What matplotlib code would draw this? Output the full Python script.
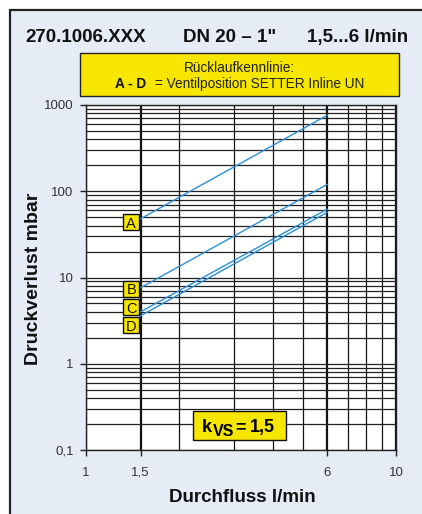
import numpy as np
import matplotlib.pyplot as plt
from matplotlib.patches import Rectangle
from matplotlib.ticker import FixedLocator, NullFormatter

plt.rcParams['font.family'] = ['Liberation Sans', 'DejaVu Sans']

# Durchfluss l/min (line end points) and pressure drop in mbar
flow = [1.5, 6.0]
curve_names = ['A', 'B', 'C', 'D']
dp_A = [48.0, 760.0]
dp_B = [7.6, 120.0]
dp_C = [4.0, 62.0]
dp_D = [3.6, 57.0]

x_ticks = [1, 1.5, 6, 10]
x_ticklabels = ['1', '1,5', '6', '10']
x_minor = [2, 3, 4, 5, 7, 8, 9]
y_ticks = [0.1, 1, 10, 100, 1000]
y_ticklabels = ['0,1', '1', '10', '100', '1000']

W, H = 422, 514
fig = plt.figure(figsize=(W / 100, H / 100), dpi=100)
fig.patch.set_facecolor('white')


def fx(px):
    return px / W


def fy(py):
    return 1 - py / H


# outer light-blue frame (runs past the right and bottom edges)
fig.patches.append(Rectangle((fx(10), fy(1500)), fx(1500), 1490 / H, transform=fig.transFigure,
                             facecolor='#e5ecf5', edgecolor='#222222', lw=1.6, zorder=-5))

ax = fig.add_axes([fx(86), fy(450), fx(396) - fx(86), fy(105) - fy(450)])
ax.set_facecolor('white')
ax.set_xscale('log')
ax.set_yscale('log')
ax.set_xlim(1, 10)
ax.set_ylim(0.1, 1000)

ax.xaxis.set_major_locator(FixedLocator(x_ticks))
ax.set_xticklabels(x_ticklabels)
ax.xaxis.set_minor_locator(FixedLocator(x_minor))
ax.xaxis.set_minor_formatter(NullFormatter())
ax.yaxis.set_major_locator(FixedLocator(y_ticks))
ax.set_yticklabels(y_ticklabels)
ax.yaxis.set_minor_locator(FixedLocator([m * 10.0 ** e for e in range(-1, 3) for m in range(2, 10)]))
ax.yaxis.set_minor_formatter(NullFormatter())

ax.grid(True, axis='x', which='major', color='#111111', lw=1.6)
ax.grid(True, axis='x', which='minor', color='#111111', lw=0.9)
ax.grid(True, axis='y', which='both', color='#222222', lw=0.9)
ax.set_axisbelow(True)

ax.tick_params(which='major', length=4, width=1, color='#222222', labelsize=9.5, labelcolor='#333333')
ax.tick_params(axis='x', which='major', pad=8)
ax.tick_params(axis='y', which='major', pad=5)
ax.tick_params(which='minor', length=0)
for s in ax.spines.values():
    s.set_color('#222222')
    s.set_linewidth(1.0)

for dp in [dp_A, dp_B, dp_C, dp_D]:
    ax.plot(flow, dp, color='#2a8fd6', lw=1.0, zorder=3)

# curve labels
label_x = 1.40
label_y = [44, 7.45, 4.5, 2.8]
for name, ly in zip(curve_names, label_y):
    ax.plot([label_x], [ly], marker='s', ms=11.5, mfc='#f6e600', mec='#111111', mew=1.0,
            zorder=4, clip_on=False)
    ax.text(label_x, ly, name, ha='center', va='center_baseline', fontsize=10.5, color='#111111', zorder=5)

ax.set_xlabel('Durchfluss l/min', fontsize=13.5, fontweight='bold', color='#111111')
ax.xaxis.set_label_coords(0.503, -0.113)
ax.set_ylabel('Druckverlust mbar', fontsize=14, fontweight='bold', color='#111111')
ax.yaxis.set_label_coords(-0.142, 0.495)

# kvs box
ax.add_patch(Rectangle((0.345, 0.029), 0.30, 0.084, transform=ax.transAxes,
                       facecolor='#f6e600', edgecolor='#111111', lw=1.0, zorder=6))
fig.text(fx(202), fy(432.5), 'k', fontsize=13, fontweight='bold', ha='left', va='baseline', zorder=7)
fig.text(fx(212.5), fy(435.5), 'VS', fontsize=11.5, fontweight='bold', ha='left', va='baseline', zorder=7)
fig.text(fx(235), fy(432), '=', fontsize=13, fontweight='bold', ha='left', va='baseline', zorder=7)
fig.text(fx(250), fy(432), '1,5', fontsize=13, fontweight='bold', ha='left', va='baseline', zorder=7)

# title line
fig.text(fx(25), fy(42), '270.1006.XXX', fontsize=13.5, fontweight='bold', ha='left', va='baseline', color='#111111')
fig.text(fx(183), fy(42), 'DN 20 – 1"', fontsize=13.5, fontweight='bold', ha='left', va='baseline', color='#111111')
fig.text(fx(408), fy(42), '1,5...6 l/min', fontsize=13.5, fontweight='bold', ha='right', va='baseline', color='#111111')

# yellow header box
fig.patches.append(Rectangle((fx(80), fy(96)), fx(399) - fx(80), fy(53) - fy(96), transform=fig.transFigure,
                             facecolor='#f6e600', edgecolor='#222222', lw=1.0, zorder=1))
fig.text(fx(239.5), fy(72.5), 'Rücklaufkennlinie:', fontsize=9.8, ha='center', va='baseline', color='#222222')
fig.text(fx(115), fy(87.5), 'A - D', fontsize=9.8, fontweight='bold', ha='left', va='baseline', color='#111111')
fig.text(fx(155), fy(87.5), '= Ventilposition SETTER Inline UN', fontsize=9.8, ha='left', va='baseline', color='#222222')

fig.savefig('out.png', dpi=100)
